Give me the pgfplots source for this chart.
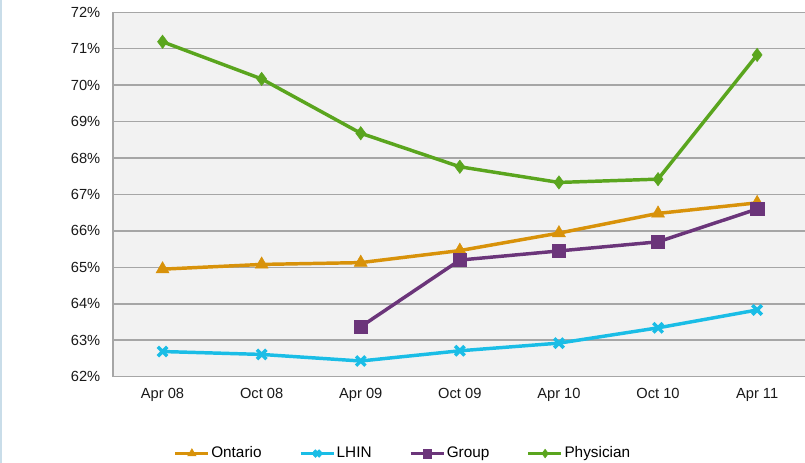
\documentclass[border=0pt]{standalone}
\usepackage{fontspec}
\setmainfont{Liberation Sans}
\usepackage{pgfplots}
\pgfplotsset{compat=1.18}
\definecolor{ontario}{HTML}{D8920A}
\definecolor{lhin}{HTML}{1ABDE6}
\definecolor{grp}{HTML}{6B357A}
\definecolor{phys}{HTML}{5AA51E}
\definecolor{gridc}{HTML}{A6A6A6}
\definecolor{bgc}{HTML}{F2F2F2}
\definecolor{framec}{HTML}{C9DDE9}
\begin{document}
\begin{tikzpicture}
\useasboundingbox (-84.75pt,-64.75pt) rectangle (519pt,282.5pt);
\begin{axis}[
  at={(0,0)}, anchor=south west,
  scale only axis, width=519pt, height=273.3pt,
  xmin=-0.5, xmax=6.483, ymin=62, ymax=72,
  axis background/.style={fill=bgc},
  axis x line*=bottom, axis y line*=left,
  axis line style={gridc, line width=1.1pt},
  ytick={62,...,72},
  yticklabels={62\%,63\%,64\%,65\%,66\%,67\%,68\%,69\%,70\%,71\%,72\%},
  ymajorgrids, grid style={gridc, line width=1.1pt},
  xtick={0,...,6},
  xticklabels={Apr 08,Oct 08,Apr 09,Oct 09,Apr 10,Oct 10,Apr 11},
  major tick length=0,
  tick label style={font=\fontsize{11}{13}\selectfont, text=black!90},
  yticklabel style={xshift=-6pt},
  xticklabel style={yshift=-5pt},
  legend columns=4,
  legend style={at={(0.4183,-0.211)}, anchor=center, draw=none, fill=none,
    font=\fontsize{11.5}{13}\selectfont,
    nodes={text depth=0.25em, text height=0.8em, inner xsep=1pt},
    /tikz/every even column/.append style={column sep=27pt}},
  legend image code/.code={\draw[mark repeat=2,mark phase=2, every mark/.append style={scale=0.65}] plot coordinates {(0cm,0cm)(0.44cm,0cm)(0.87cm,0cm)};},
]
\addplot[ontario, line width=2.6pt, mark=triangle*, mark size=5.6pt, mark options={line width=0.4pt}]
  coordinates {(0,64.95)(1,65.08)(2,65.13)(3,65.46)(4,65.94)(5,66.48)(6,66.77)};
\addlegendentry{Ontario}
\addplot[lhin, line width=2.6pt, mark=x, mark size=5pt, mark options={line width=2.6pt}]
  coordinates {(0,62.69)(1,62.61)(2,62.43)(3,62.71)(4,62.92)(5,63.34)(6,63.83)};
\addlegendentry{LHIN}
\addplot[grp, line width=2.6pt, mark=square*, mark size=5pt, mark options={line width=0.4pt}]
  coordinates {(2,63.37)(3,65.20)(4,65.45)(5,65.70)(6,66.60)};
\addlegendentry{Group}
\addplot[phys, line width=2.6pt, mark=diamond*, mark size=5pt, mark options={line width=0.4pt}]
  coordinates {(0,71.19)(1,70.17)(2,68.68)(3,67.76)(4,67.33)(5,67.42)(6,70.83)};
\addlegendentry{Physician}
\node[rotate=90, font=\bfseries\fontsize{11}{13}\selectfont] at (rel axis cs:-0.127,0.537) {Percent};
\end{axis}
\draw[framec, line width=1.5pt] (-84pt,-64.75pt) -- (-84pt,282.5pt);
\end{tikzpicture}
\end{document}
